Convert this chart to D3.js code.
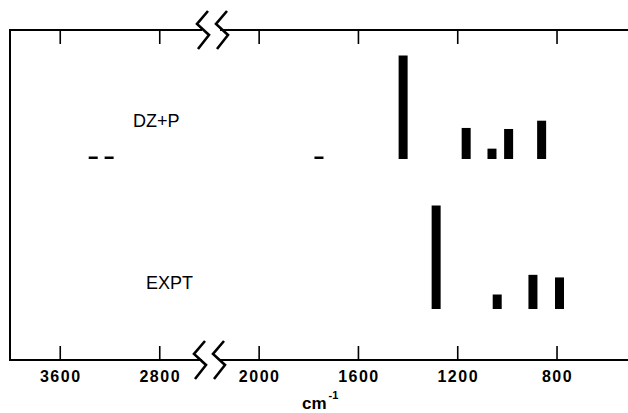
<!DOCTYPE html>
<html lang="en">
<head>
    <meta charset="UTF-8">
    <title>DZ+P vs EXPT stick spectrum</title>
    <script src="https://d3js.org/d3.v7.min.js"></script>
    <style>
        body { margin: 0; background: #fff; }
        text { font-family: "Liberation Sans", Arial, Helvetica, sans-serif; fill: #000; }
    </style>
</head>
<body>
    <div id="chart"></div>

    <script>
        // Tick labels (cm-1)
        const highTicks = [3600, 2800];
        const lowTicks = [2000, 1600, 1200, 800];

        // DZ+P computed bands: frequency (cm-1) and relative intensity
        const dzpFreq = [3331, 3203, 1757, 1418, 1164, 1060, 993, 860];
        const dzpInt = [0, 0, 0, 100, 30, 10, 29, 37];

        // Experimental bands
        const exptFreq = [1285, 1039, 895, 788];
        const exptInt = [100, 14, 33, 30.5];

        const panelLabels = ["DZ+P", "EXPT"];

        const W = 628, H = 413;
        const yTop = 30, yBottom = 360, xLeft = 10;

        const svg = d3.select("#chart")
            .append("svg")
            .attr("width", W)
            .attr("height", H);

        // Broken x axis: two linear pieces that meet at the break
        const xHigh = d3.scaleLinear().domain([4000, 2400]).range([xLeft, 209]);
        const xLow = d3.scaleLinear().domain([2200, 500]).range([209, 631]);
        const xPos = v => v > 2300 ? xHigh(v) : xLow(v);

        // Intensity scale (bar height in px above the baseline)
        const y = d3.scaleLinear().domain([0, 100]).range([0, 103.5]);

        // Frame: left side and the two horizontal lines split at the break
        const frame = svg.append("g")
            .attr("stroke", "#000")
            .attr("stroke-width", 2)
            .attr("fill", "none");
        frame.append("line").attr("x1", xLeft).attr("x2", xLeft).attr("y1", yTop - 1).attr("y2", yBottom + 1);
        [yTop, yBottom].forEach(yy => {
            frame.append("line").attr("x1", xLeft - 1).attr("x2", 202).attr("y1", yy).attr("y2", yy);
            frame.append("line").attr("x1", 220).attr("x2", W).attr("y1", yy).attr("y2", yy);
        });

        // Break marks (two zigzags on each axis line)
        const zig = (c, y0) => [[c + 5, y0 - 19], [c - 6, y0 - 6], [c + 6, y0 + 5], [c - 5, y0 + 19]];
        [[203, yTop], [222, yTop], [200, yBottom], [219, yBottom]].forEach(([c, y0]) => {
            svg.append("polyline")
                .attr("points", zig(c, y0).map(p => p.join(",")).join(" "))
                .attr("fill", "none")
                .attr("stroke", "#000")
                .attr("stroke-width", 2.6);
        });

        // Top axis: ticks pointing down, no labels
        [[xHigh, highTicks], [xLow, lowTicks]].forEach(([sc, vals]) => {
            svg.append("g")
                .attr("transform", `translate(0,${yTop})`)
                .call(d3.axisBottom(sc).tickValues(vals).tickSize(14).tickFormat(""))
                .call(g => g.select(".domain").remove())
                .call(g => g.selectAll(".tick line").attr("stroke", "#000").attr("stroke-width", 1.6));
        });

        // Bottom axis: ticks pointing up, bold labels below
        [[xHigh, highTicks], [xLow, lowTicks]].forEach(([sc, vals]) => {
            svg.append("g")
                .attr("transform", `translate(0,${yBottom})`)
                .call(d3.axisBottom(sc).tickValues(vals).tickSize(-14).tickPadding(11).tickFormat(d3.format("d")))
                .call(g => g.select(".domain").remove())
                .call(g => g.selectAll(".tick line").attr("stroke", "#000").attr("stroke-width", 1.6))
                .call(g => g.selectAll(".tick text")
                    .attr("fill", "#000")
                    .attr("font-family", "'Liberation Sans', Arial, sans-serif")
                    .attr("font-size", "16px")
                    .attr("font-weight", "bold")
                    .attr("letter-spacing", "1.5px")
                    .attr("dx", "0.5px"));
        });

        // Stick bars for each panel
        const panels = [
            { freq: dzpFreq, inten: dzpInt, base: 159, label: panelLabels[0], lx: 133, ly: 127 },
            { freq: exptFreq, inten: exptInt, base: 309, label: panelLabels[1], lx: 146, ly: 289 }
        ];

        panels.forEach(p => {
            const g = svg.append("g");
            g.selectAll("rect")
                .data(p.freq.map((f, i) => ({ f, v: p.inten[i] })))
                .join("rect")
                .attr("x", d => xPos(d.f) - 4.5)
                .attr("width", 9)
                .attr("y", d => p.base - Math.max(y(d.v), 2.5))
                .attr("height", d => Math.max(y(d.v), 2.5))
                .attr("fill", "#000");

            svg.append("text")
                .attr("x", p.lx)
                .attr("y", p.ly)
                .attr("font-size", "18px")
                .text(p.label);
        });

        // Axis title: cm^-1
        const title = svg.append("text")
            .attr("x", 302)
            .attr("y", 409)
            .attr("font-size", "17px")
            .attr("font-weight", "bold");
        title.append("tspan").text("cm");
        title.append("tspan")
            .attr("dy", -10)
            .attr("dx", 2)
            .attr("font-size", "11px")
            .text("-1");
    </script>
</body>
</html>
